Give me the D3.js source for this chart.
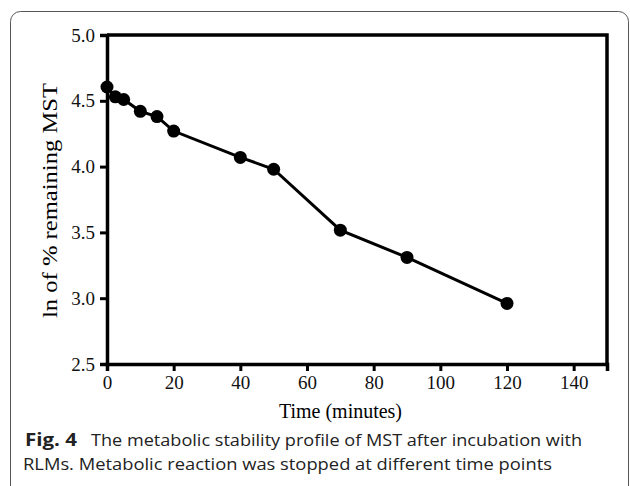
<!DOCTYPE html>
<html>
<head>
<meta charset="utf-8">
<script src="https://cdn.jsdelivr.net/npm/d3@7"></script>
<style>
  body { margin: 0; background: #fff; }
</style>
</head>
<body>
<script>
// time points (minutes) and ln of % remaining MST
var times = [0, 2.5, 5, 10, 15, 20, 40, 50, 70, 90, 120];
var lnRemaining = [4.605, 4.53, 4.51, 4.42, 4.38, 4.27, 4.07, 3.98, 3.517, 3.31, 2.96];
var xTicks = [0, 20, 40, 60, 80, 100, 120, 140];
var yTicks = [2.5, 3.0, 3.5, 4.0, 4.5, 5.0];

var width = 630, height = 486;
var margin = {top: 35, right: 23, bottom: 122, left: 107};

var svg = d3.select("body").append("svg")
    .attr("width", width)
    .attr("height", height);

// rounded panel border
svg.append("rect")
    .attr("x", 10.5).attr("y", 11.5)
    .attr("width", 618).attr("height", 490)
    .attr("rx", 10)
    .attr("fill", "none")
    .attr("stroke", "#555")
    .attr("stroke-width", 1);

var x = d3.scaleLinear().domain([0, 150]).range([margin.left, width - margin.right]);
var y = d3.scaleLinear().domain([2.5, 5.0]).range([height - margin.bottom, margin.top]);

// frame top and right
svg.append("path")
    .attr("d", "M" + x(0) + "," + y(5) + "H" + x(150) + "V" + y(2.5))
    .attr("fill", "none")
    .attr("stroke", "#000")
    .attr("stroke-width", 3.5);

var xAxis = svg.append("g")
    .attr("transform", "translate(0," + y(2.5) + ")")
    .call(d3.axisBottom(x).tickValues(xTicks).tickSize(7).tickPadding(5).tickFormat(d3.format("d")));
var yAxis = svg.append("g")
    .attr("transform", "translate(" + x(0) + ",0)")
    .call(d3.axisLeft(y).tickValues(yTicks).tickSize(7).tickPadding(5).tickFormat(d3.format(".1f")));

[xAxis, yAxis].forEach(function(g){
    g.attr("font-family", "Liberation Serif, serif").attr("font-size", 19);
    g.select(".domain").attr("stroke", "#000").attr("stroke-width", 3.5);
    g.selectAll(".tick line").attr("stroke", "#000").attr("stroke-width", 3);
    g.selectAll(".tick text").attr("fill", "#111");
});

// data line and markers
var pts = times.map(function(t, i){ return [t, lnRemaining[i]]; });
var line = d3.line().x(function(d){ return x(d[0]); }).y(function(d){ return y(d[1]); });

svg.append("path")
    .datum(pts)
    .attr("d", line)
    .attr("fill", "none")
    .attr("stroke", "#000")
    .attr("stroke-width", 3);

svg.selectAll(".dot")
    .data(pts)
    .enter()
    .append("circle")
    .attr("class", "dot")
    .attr("cx", function(d){ return x(d[0]); })
    .attr("cy", function(d){ return y(d[1]); })
    .attr("r", 6.5)
    .attr("fill", "#000");

// axis titles
svg.append("text")
    .attr("x", 279).attr("y", 418)
    .style("font-family", "Liberation Serif, serif")
    .style("font-size", "21px")
    .attr("textLength", 123)
    .attr("lengthAdjust", "spacingAndGlyphs")
    .text("Time (minutes)");

svg.append("text")
    .attr("transform", "translate(57,318) rotate(-90)")
    .style("font-family", "Liberation Serif, serif")
    .style("font-size", "21px")
    .attr("textLength", 235)
    .attr("lengthAdjust", "spacingAndGlyphs")
    .text("ln of % remaining MST");

// caption
var capFont = "Open Sans, sans-serif";
svg.append("text")
    .attr("x", 25).attr("y", 446)
    .style("font-family", capFont)
    .style("font-size", "17px")
    .style("font-weight", "bold")
    .attr("fill", "#222")
    .attr("textLength", 52)
    .attr("lengthAdjust", "spacingAndGlyphs")
    .text("Fig. 4");

svg.append("text")
    .attr("x", 91).attr("y", 446)
    .style("font-family", capFont)
    .style("font-size", "17px")
    .attr("fill", "#222")
    .attr("textLength", 491)
    .attr("lengthAdjust", "spacingAndGlyphs")
    .text("The metabolic stability profile of MST after incubation with");

svg.append("text")
    .attr("x", 23).attr("y", 470)
    .style("font-family", capFont)
    .style("font-size", "17px")
    .attr("fill", "#222")
    .attr("textLength", 529)
    .attr("lengthAdjust", "spacingAndGlyphs")
    .text("RLMs. Metabolic reaction was stopped at different time points");
</script>
</body>
</html>
